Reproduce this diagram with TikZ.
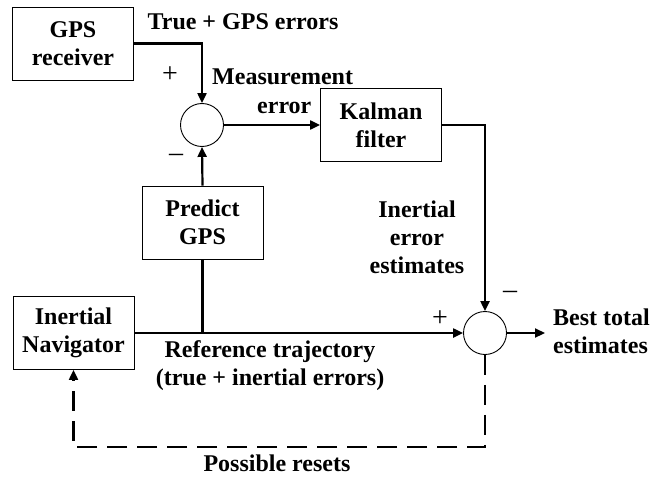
\documentclass[tikz,border=0pt]{standalone}
\usepackage{fontspec}
\setmainfont{Liberation Serif}
\usetikzlibrary{arrows.meta}
\begin{document}
\begin{tikzpicture}[x=1pt,y=-1pt,
  font=\fontsize{24}{28}\selectfont\bfseries,
  blk/.style={draw, line width=0.9pt, minimum width=121pt, minimum height=73pt, align=center, inner sep=2pt},
  sumc/.style={draw, circle, line width=0.9pt, minimum size=43pt, inner sep=0pt},
  conn/.style={line width=2.2pt},
  arr/.style={conn, -{Triangle[length=10pt,width=9pt]}},
  lbl/.style={align=center, inner sep=0pt},
  sgn/.style={font=\fontsize{28}{30}\selectfont, inner sep=0pt}]
\useasboundingbox (0,0) rectangle (652,476);
\node[blk] (gps) at (73,43.5) {GPS\\receiver};
\node[blk] (kal) at (381,125) {Kalman\\filter};
\node[blk] (pred) at (202.5,222.5) {Predict\\GPS};
\node[blk] (nav) at (73.5,333) {Inertial\\Navigator};
\node[sumc] (s1) at (202,125) {};
\node[sumc] (s2) at (485,333) {};
\coordinate (out) at (545,333);
\coordinate (jn) at (pred.south |- nav.east);
\coordinate (dd) at (485,447);

\draw[arr] (gps.east) -| (s1.north);
\draw[arr] (s1.east) -- (kal.west);
\draw[arr] (pred.north) -- (s1.south);
\draw[arr] (kal.east) -| (s2.north);
\draw[arr] (nav.east) -- (s2.west);
\draw[conn] (pred.south) -- (jn);
\draw[arr] (s2.east) -- (out);
\draw[arr, dash pattern=on 20pt off 10pt] (s2.south) -- (dd) -| (nav.south);

\node[lbl] at (243,22) {True + GPS errors};
\node[lbl, anchor=west] at (212,77) {Measurement};
\node[lbl, anchor=west] at (257,108) {error};
\node[sgn] at (170,75) {+};
\node[sgn] at (176,158) {\textendash};
\node[sgn] at (440,319) {+};
\node[sgn] at (510,295) {\textendash};
\node[lbl] at (417,237) {Inertial\\error\\estimates};
\node[lbl, anchor=west, align=left] at (553,331) {Best total\\estimates};
\node[lbl] at (270,366) {Reference trajectory\\(true + inertial errors)};
\node[lbl] at (277,463) {Possible resets};
\end{tikzpicture}
\end{document}
